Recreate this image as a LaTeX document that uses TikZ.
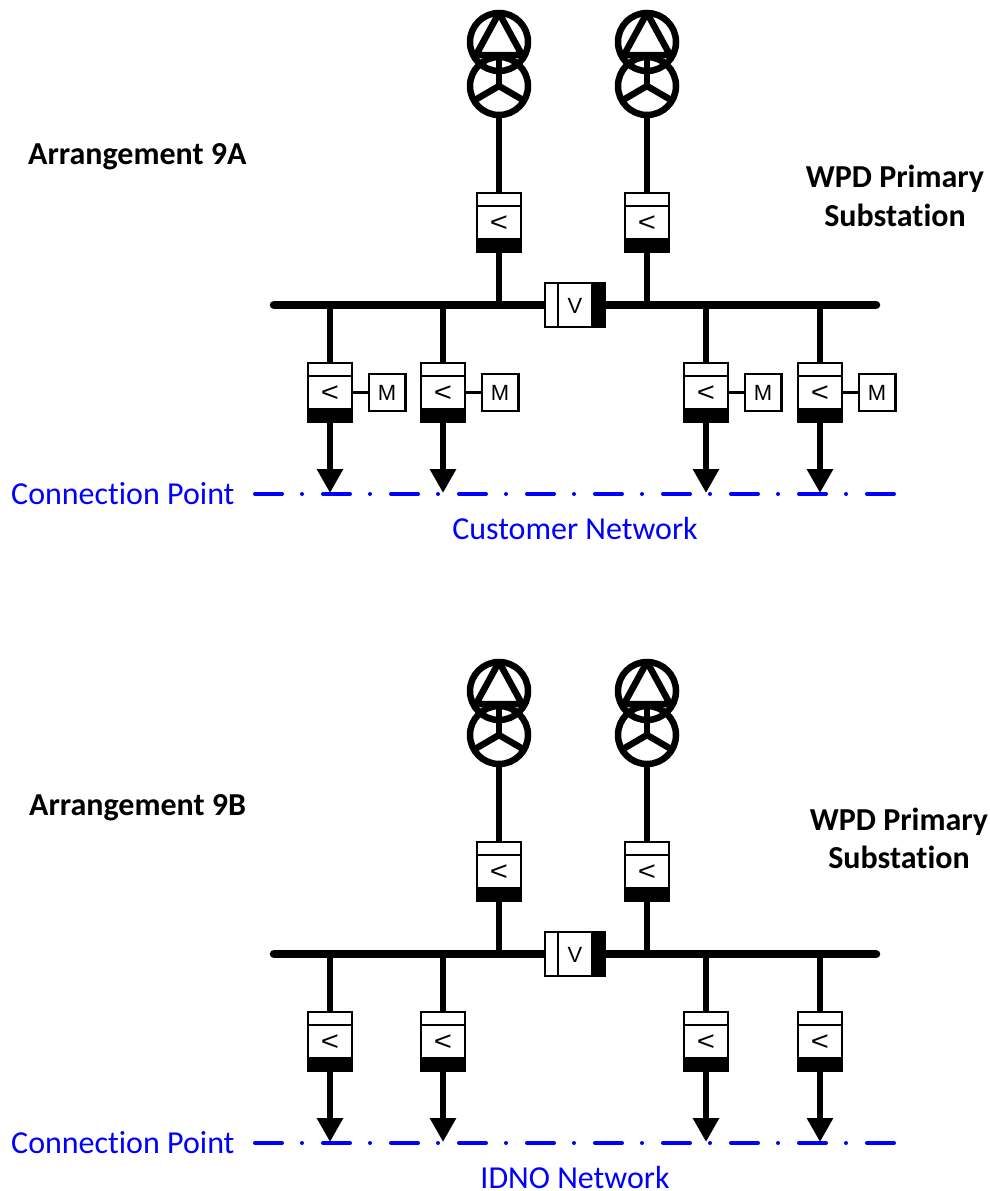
\documentclass[tikz,border=0pt]{standalone}
\usepackage{fontspec}
\setmainfont[Ligatures=NoCommon]{Carlito}
\newfontfamily\symfont{Liberation Sans}
\usetikzlibrary{arrows.meta}
\definecolor{netblue}{RGB}{0,0,255}
\tikzset{
  x=1pt,y=-1pt,
  wind/.style={circle,draw,line width=6.5pt,minimum size=58pt,inner sep=0pt,outer sep=0pt},
  wire/.style={line width=6.5pt},
  busbar/.style={line width=8.5pt,line cap=round},
  cbox/.style={draw,line width=2.2pt,fill=white,minimum width=43.4pt,minimum height=58.8pt,inner sep=0pt,outer sep=1.1pt},
  secbox/.style={draw,line width=2.2pt,fill=white,minimum width=59.8pt,minimum height=43.8pt,inner sep=0pt,outer sep=1.1pt},
  mbox/.style={draw,line width=2.2pt,fill=white,minimum size=36.8pt,inner sep=0pt,outer sep=1.1pt},
  sym/.style={inner sep=0pt,font=\symfont\fontsize{27}{27}\selectfont},
  symv/.style={inner sep=0pt,font=\symfont\fontsize{22}{22}\selectfont},
  feeder/.style={line width=6.5pt,-{Triangle[length=24pt,width=25pt,sep=0pt]}},
  title/.style={font=\bfseries\fontsize{32}{32}\selectfont,inner sep=0pt},
  net/.style={font=\fontsize{32}{32}\selectfont,text=netblue,inner sep=0pt},
  cpline/.style={draw=netblue,line width=4pt,line cap=round,dash pattern=on 27pt off 20pt on 0.01pt off 20.99pt},
}
\newcommand{\breakerat}[3]{% name, x, top y
  \node[cbox] (#1) at (#2,#3+30.5) {};
  \fill (#1.south west) rectangle ([yshift=15pt]#1.south east);
  \draw[line width=2.2pt] ([yshift=-14pt]#1.north west) -- ([yshift=-14pt]#1.north east);
  \node[sym] at (#2,#3+32) {\scalebox{1.15}[1]{<}};
}
\begin{document}
\begin{tikzpicture}
\useasboundingbox (0,0) rectangle (990,1191);
\foreach \p/\dy in {a/0,b/649}{
  \begin{scope}[yshift=-\dy pt]
    % transformers
    \foreach \q/\x in {l/499,r/647}{
      \node[wind] (\p\q d) at (\x,42) {};
      \node[wind] (\p\q s) at (\x,86) {};
      \draw[line width=6.5pt,line join=round] (\x,13) -- (\x-23,55) -- (\x+23,55) -- cycle;
      \draw[line width=6.5pt] (\p\q s.center) -- (\x,57);
      \draw[line width=6.5pt] (\p\q s.center) -- (\x-24,100);
      \draw[line width=6.5pt] (\p\q s.center) -- (\x+24,100);
      \breakerat{\p\q b}{\x}{192}
      \draw[wire] (\p\q s.south) -- (\p\q b.north);
    }
    % bus
    \coordinate (\p busl) at (274,305);
    \coordinate (\p busr) at (876,305);
    \draw[busbar] (\p busl) -- (\p busr);
    \draw[wire] (\p lb.south) -- (\p lb.south |- \p busl);
    \draw[wire] (\p rb.south) -- (\p rb.south |- \p busl);
    % bus section
    \node[secbox] (\p sec) at (575,305) {};
    \fill ([xshift=-15pt]\p sec.north east) rectangle (\p sec.south east);
    \draw[line width=2.2pt] ([xshift=14pt]\p sec.north west) -- ([xshift=14pt]\p sec.south west);
    \node[symv] at (575,306) {V};
    % connection line
    \coordinate (\p cpl) at (255,494);
    \coordinate (\p cpr) at (895,494);
    \draw[cpline] (\p cpl) -- (\p cpr);
    % feeders
    \foreach \q/\x in {1/330,2/443,3/706,4/820}{
      \draw[wire] (\x,305) -- (\x,362);
      \breakerat{\p f\q}{\x}{362}
      \coordinate (\p t\q) at (\x,493);
      \draw[feeder] (\p f\q.south) -- (\p t\q);
    }
  \end{scope}
}
% motor boxes
\foreach \q/\x in {1/330,2/443,3/706,4/820}{
  \node[mbox] (m\q) at (\x+57,392.5) {\symfont\fontsize{22}{22}\selectfont M};
  \draw[line width=2.2pt] (af\q.east |- m\q.west) -- (m\q.west);
}
% text
\node[title,anchor=base west] (t1) at (28,164) {Arrangement 9A};
\node[title,anchor=base] (t2) at (895,187) {WPD Primary};
\node[title,anchor=base] (t3) at (895,226) {Substation};
\node[title,anchor=base west] (t4) at (29,815) {Arrangement 9B};
\node[title,anchor=base] (t5) at (899,830) {WPD Primary};
\node[title,anchor=base] (t6) at (899,868) {Substation};
\node[net,anchor=base west] (n1) at (11,504) {Connection Point};
\node[net,anchor=base] (n2) at (575,539) {Customer Network};
\node[net,anchor=base west] (n3) at (11,1153) {Connection Point};
\node[net,anchor=base] (n4) at (575,1188) {IDNO Network};
\end{tikzpicture}
\end{document}
